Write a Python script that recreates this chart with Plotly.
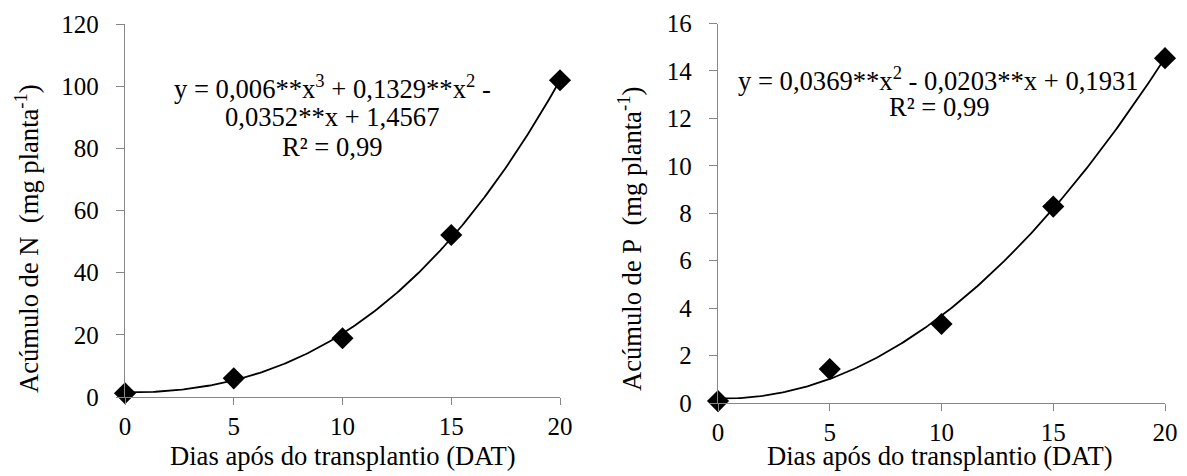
import numpy as np
import plotly.graph_objects as go

# Sampling days (DAT)
days = [0, 5, 10, 15, 20]

# Measured accumulation (mg per plant)
n_accum = [1.2, 6.0, 18.9, 52.1, 101.9]
p_accum = [0.08, 1.43, 3.33, 8.28, 14.54]

# Fitted regression coefficients, highest power first
n_coef = [0.006, 0.1329, -0.0352, 1.4567]
p_coef = [0.0369, -0.0203, 0.1931]

W, H = 1187, 476
FONT = "'Times New Roman', 'Liberation Serif', serif"
AXIS_GREY = "#878787"


def px_x(px):
    return px / W


def px_y(py):
    return 1 - py / H


x_fit = np.linspace(0, 20, 201)
n_fit = np.polyval(n_coef, x_fit)
p_fit = np.polyval(p_coef, x_fit)

fig = go.Figure()

for xa, ya, y_obs, y_fit in (("x", "y", n_accum, n_fit), ("x2", "y2", p_accum, p_fit)):
    fig.add_trace(go.Scatter(x=x_fit, y=y_fit, mode="lines", xaxis=xa, yaxis=ya,
                             line=dict(color="black", width=1.8), showlegend=False,
                             hoverinfo="skip"))
    fig.add_trace(go.Scatter(x=days, y=y_obs, mode="markers", xaxis=xa, yaxis=ya,
                             marker=dict(symbol="diamond", size=17, color="black"),
                             cliponaxis=False, showlegend=False))

tick_font = dict(family=FONT, size=25, color="black")
common_x = dict(range=[0, 20], tickvals=days, showline=True, linecolor=AXIS_GREY,
                linewidth=1.3, ticks="outside", ticklen=7, tickcolor=AXIS_GREY,
                tickwidth=1.3, showgrid=False, zeroline=False, tickfont=tick_font,
                ticklabelstandoff=0, automargin=False)
common_y = dict(showline=True, linecolor=AXIS_GREY, linewidth=1.3, ticks="outside",
                ticklen=8, tickcolor=AXIS_GREY, tickwidth=1.3, showgrid=False,
                zeroline=False, tickfont=tick_font, ticklabelstandoff=12,
                automargin=False)

fig.update_layout(
    width=W, height=H,
    margin=dict(l=0, r=0, t=0, b=0, pad=0, autoexpand=False),
    paper_bgcolor="white", plot_bgcolor="white",
    font=dict(family=FONT, color="black"),
    xaxis=dict(domain=[px_x(125), px_x(560)], anchor="y", **common_x),
    yaxis=dict(domain=[px_y(397), px_y(24)], anchor="x", range=[0, 120],
               tickvals=[0, 20, 40, 60, 80, 100, 120], **common_y),
    xaxis2=dict(domain=[px_x(718), px_x(1165)], anchor="y2", **common_x),
    yaxis2=dict(domain=[px_y(403), px_y(23.5)], anchor="x2", range=[0, 16],
                tickvals=[0, 2, 4, 6, 8, 10, 12, 14, 16], **common_y),
)

label_font = dict(family=FONT, size=26.6, color="black")
annotations = [
    # Axis titles
    dict(x=px_x(342.5), y=px_y(456), text="Dias após do transplantio (DAT)"),
    dict(x=px_x(940), y=px_y(456), text="Dias após do transplantio (DAT)"),
    dict(x=px_x(27), y=px_y(239), text="Acúmulo de N\u00a0\u00a0(mg planta<sup>-1</sup>)",
         textangle=-90),
    dict(x=px_x(630), y=px_y(239), text="Acúmulo de P\u00a0\u00a0(mg planta<sup>-1</sup>)",
         textangle=-90),
    # Regression equation, nitrogen (one annotation per line)
    dict(x=px_x(332), y=px_y(87),
         text="y = 0,006**x<sup>3</sup> + 0,1329**x<sup>2</sup> -"),
    dict(x=px_x(332), y=px_y(117), text="0,0352**x + 1,4567"),
    dict(x=px_x(332), y=px_y(147), text="R² = 0,99"),
    # Regression equation, phosphorus
    dict(x=px_x(938), y=px_y(79),
         text="y = 0,0369**x<sup>2</sup> - 0,0203**x + 0,1931"),
    dict(x=px_x(939), y=px_y(107), text="R² = 0,99"),
]
for a in annotations:
    a.update(xref="paper", yref="paper", showarrow=False, font=label_font,
             xanchor="center", yanchor="middle", align="center")
    fig.add_annotation(**a)

fig.write_html("out.html")
